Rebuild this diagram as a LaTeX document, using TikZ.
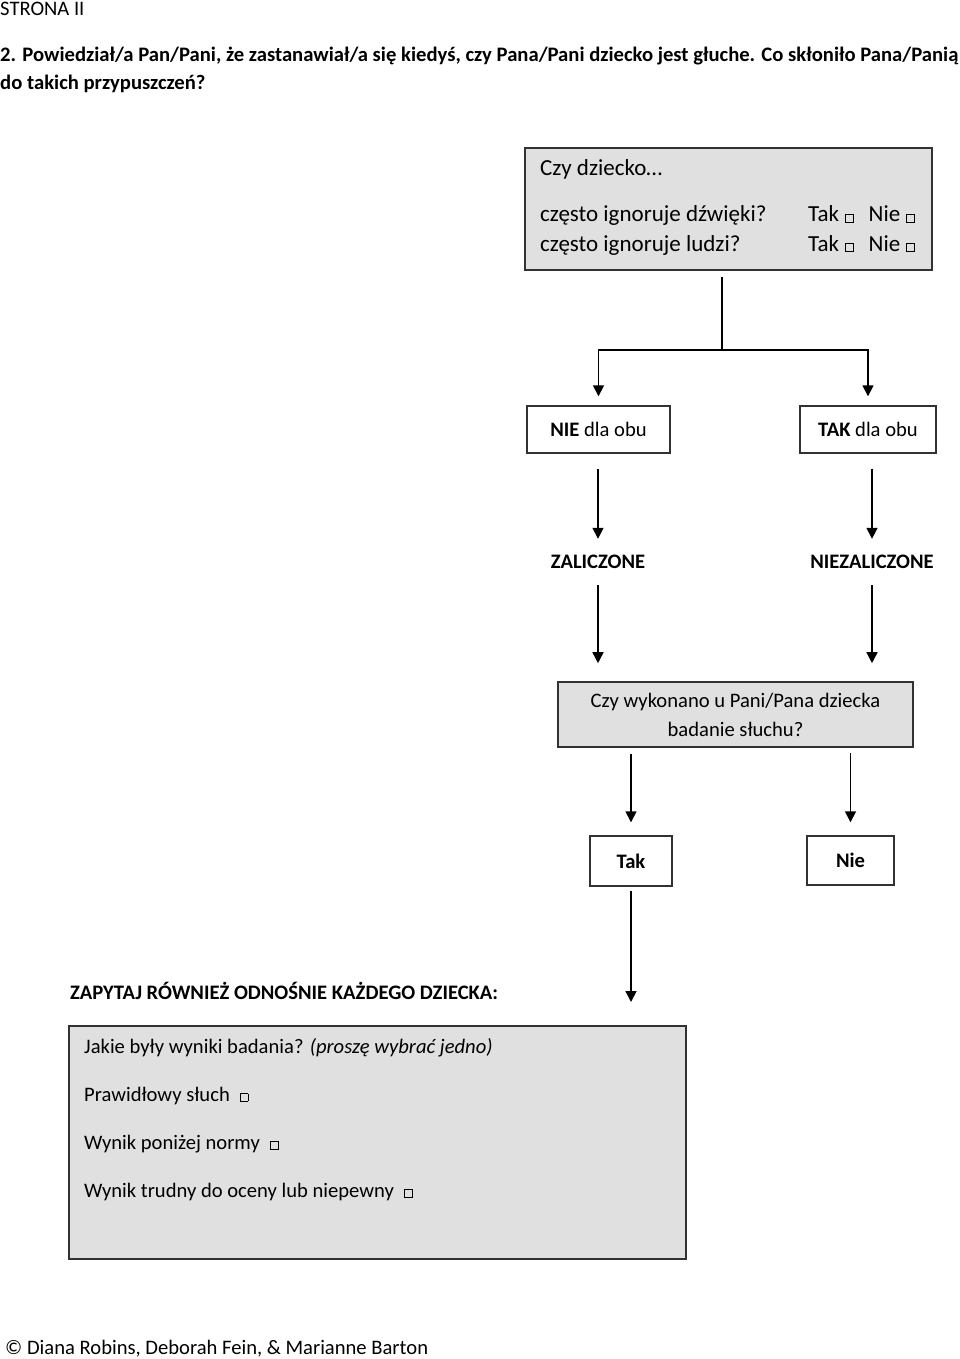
\documentclass[tikz,border=0pt]{standalone}
\usepackage{fontspec}
\usepackage{graphicx}
\setmainfont{Carlito}
\usetikzlibrary{arrows.meta}

\definecolor{boxfill}{RGB}{224,224,224}
\definecolor{boxline}{RGB}{50,50,50}
\newcommand{\chk}{{\setlength{\fboxsep}{0pt}\setlength{\fboxrule}{0.8pt}\fbox{\rule{0pt}{7pt}\rule{7pt}{0pt}}}}
\newcommand{\bodyfont}{\fontsize{20.6}{29}\selectfont}
\newcommand{\bigfont}{\fontsize{23}{29}\selectfont}

\begin{document}
\begin{tikzpicture}[x=1pt,y=-1pt,
    graybox/.style={draw=boxline,fill=boxfill,line width=1.6pt,inner sep=0pt},
    whitebox/.style={draw=boxline,line width=1.4pt,inner sep=0pt},
    txt/.style={inner sep=0pt,anchor=base west},
    label/.style={inner sep=0pt,font=\bodyfont\bfseries,minimum height=46pt},
    link/.style={line width=1.6pt},
    flowarrow/.style={line width=1.6pt,-{Triangle[width=11pt,length=11pt]}}]
        \useasboundingbox (0,0) rectangle (960,1359);
        % header
        \node[txt] (page) at (0,16) {\bodyfont STRONA II};
        \node[txt] (question) at (0,62) {\resizebox{958pt}{\height}{\bodyfont\bfseries
            \begin{tabular}[t]{@{}l@{}}
            2. Powiedział/a Pan/Pani, że zastanawiał/a się kiedyś, czy Pana/Pani dziecko jest głuche. Co skłoniło Pana/Panią\\[-1pt]
            do takich przypuszczeń?
            \end{tabular}}};
        % first question box
        \node[graybox,minimum width=407pt,minimum height=122pt] (ask) at (728.5,209) {};
        \node[txt,font=\bigfont] (askhead) at (540,176) {Czy dziecko…};
        \node[txt,font=\bigfont] (sounds) at (540,222) {często ignoruje dźwięki?};
        \node[txt,font=\bigfont] (people) at (540,251) {często ignoruje ludzi?};
        \node[txt,font=\bigfont] (soundsyn) at (808,222) {Tak\hspace{6pt}\chk\hspace{15pt}Nie\hspace{6pt}\chk};
        \node[txt,font=\bigfont] (peopleyn) at (808,251) {Tak\hspace{6pt}\chk\hspace{15pt}Nie\hspace{6pt}\chk};
        \coordinate (split) at (722,350);
        \draw[link,shorten <=6pt] (ask.south -| split) -- (split);
        % answers
        \node[whitebox,minimum width=143pt,minimum height=47pt,font=\bodyfont] (noboth) at (598.5,429.5) {\textbf{NIE} dla obu};
        \node[whitebox,minimum width=136pt,minimum height=47pt,font=\bodyfont] (yesboth) at (868,429.5) {\textbf{TAK} dla obu};
        \draw[flowarrow,shorten >=9pt] (split) -| (noboth.north);
        \draw[flowarrow,shorten >=9pt] (split) -| (yesboth.north);
        \node[label] (pass) at (598,562) {ZALICZONE};
        \node[label] (fail) at (872,562) {NIEZALICZONE};
        \draw[flowarrow,shorten <=15pt] (noboth.south -| pass) -- (pass.north);
        \draw[flowarrow,shorten <=15pt] (yesboth.south -| fail) -- (fail.north);
        % hearing test
        \node[graybox,minimum width=355pt,minimum height=65pt,align=center,font=\bodyfont] (test) at (735.5,714.5) {Czy wykonano u Pani/Pana dziecka\\badanie słuchu?};
        \draw[flowarrow,shorten >=18pt] (pass.south) -- (pass.south |- test.north);
        \draw[flowarrow,shorten >=18pt] (fail.south) -- (fail.south |- test.north);
        \node[whitebox,minimum width=82pt,minimum height=50pt,font=\bodyfont\bfseries] (tested) at (631,861) {Tak};
        \node[whitebox,minimum width=87pt,minimum height=49pt,font=\bodyfont\bfseries] (nottested) at (850.5,860.5) {Nie};
        \draw[flowarrow,shorten <=6pt,shorten >=13pt] (test.south -| tested) -- (tested.north);
        \draw[flowarrow,shorten <=5pt,shorten >=13pt] (test.south -| nottested) -- (nottested.north);
        \coordinate (result) at (631,1002);
        \draw[flowarrow,shorten <=4pt] (tested.south) -- (result);
        % results box
        \node[txt,font=\bodyfont\bfseries] (askall) at (70,999) {ZAPYTAJ RÓWNIEŻ ODNOŚNIE KAŻDEGO DZIECKA:};
        \node[graybox,minimum width=617pt,minimum height=233pt] (results) at (377.5,1142.5) {};
        \node[txt,font=\bodyfont] (resulthead) at (84,1053) {Jakie były wyniki badania? \textit{(proszę wybrać jedno)}};
        \node[txt,font=\bodyfont] (normal) at (84,1101) {Prawidłowy słuch\hspace{10pt}\chk};
        \node[txt,font=\bodyfont] (below) at (84,1149) {Wynik poniżej normy\hspace{10pt}\chk};
        \node[txt,font=\bodyfont] (unclear) at (84,1197) {Wynik trudny do oceny lub niepewny\hspace{10pt}\chk};
        % footer
        \node[txt,font=\bodyfont] (copy) at (5,1354) {© Diana Robins, Deborah Fein, \& Marianne Barton};
\end{tikzpicture}
\end{document}
